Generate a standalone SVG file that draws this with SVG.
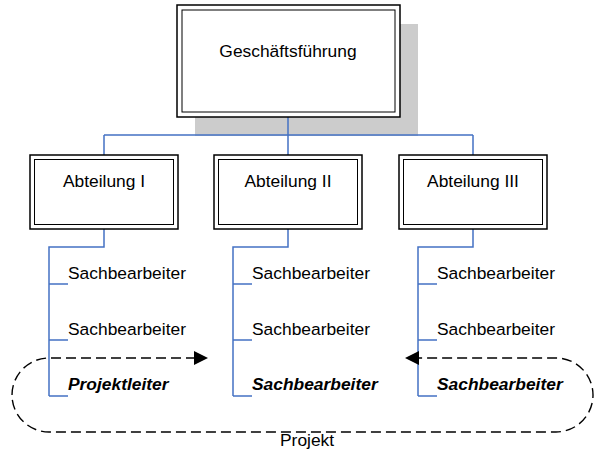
<svg xmlns="http://www.w3.org/2000/svg" width="595" height="452" viewBox="0 0 595 452">
  <style>
    .outer { fill: #ffffff; stroke: #000000; stroke-width: 1.5; }
    .inner { fill: none; stroke: #000000; stroke-width: 1; }
    .label { font-family: "Liberation Sans", Arial, sans-serif; font-size: 17.4px; fill: #000000; }
    .emph { font-weight: bold; font-style: italic; }
    .tree { fill: none; stroke: #4472C4; stroke-width: 1.5; }
    .dash { fill: none; stroke: #000000; stroke-width: 1.4; stroke-dasharray: 10 5; }
  </style>

  <!-- connectors -->
  <g id="connectors">
    <rect x="195" y="24" width="223" height="112" fill="#cccccc"/>
    <path class="tree" d="M288,117 V135 M104,135 H473 M104,135 V155 M288,135 V155 M473,135 V155"/>
    <path class="tree" d="M104,229 V247 H49 V396 M49,284 H68 M49,340 H68 M49,396 H68"/>
    <path class="tree" d="M288,229 V247 H233 V396 M233,284 H252 M233,340 H252 M233,396 H252"/>
    <path class="tree" d="M473,229 V247 H418 V396 M418,284 H437 M418,340 H437 M418,396 H437"/>
  </g>

  <g id="geschaeftsfuehrung">
    <rect class="outer" x="177" y="5" width="223" height="112"/>
    <rect class="inner" x="182" y="10" width="213" height="102"/>
    <text class="label" x="288" y="57" text-anchor="middle">Geschäftsführung</text>
  </g>

  <g id="abteilung-1">
    <rect class="outer" x="30" y="155" width="148" height="74"/>
    <rect class="inner" x="34.5" y="159.5" width="139" height="65"/>
    <text class="label" x="104" y="187" text-anchor="middle">Abteilung I</text>
  </g>

  <g id="abteilung-2">
    <rect class="outer" x="214" y="155" width="148" height="74"/>
    <rect class="inner" x="218.5" y="159.5" width="139" height="65"/>
    <text class="label" x="288" y="187" text-anchor="middle">Abteilung II</text>
  </g>

  <g id="abteilung-3">
    <rect class="outer" x="399" y="155" width="148" height="74"/>
    <rect class="inner" x="403.5" y="159.5" width="139" height="65"/>
    <text class="label" x="473" y="187" text-anchor="middle">Abteilung III</text>
  </g>

  <g id="staff-1">
    <text class="label" x="68" y="279">Sachbearbeiter</text>
    <text class="label" x="68" y="335">Sachbearbeiter</text>
    <text class="label emph" x="68" y="390">Projektleiter</text>
  </g>
  <g id="staff-2">
    <text class="label" x="252" y="279">Sachbearbeiter</text>
    <text class="label" x="252" y="335">Sachbearbeiter</text>
    <text class="label emph" x="252" y="390">Sachbearbeiter</text>
  </g>
  <g id="staff-3">
    <text class="label" x="437" y="279">Sachbearbeiter</text>
    <text class="label" x="437" y="335">Sachbearbeiter</text>
    <text class="label emph" x="437" y="390">Sachbearbeiter</text>
  </g>

  <!-- project loop with its two arrowheads -->
  <g id="projekt">
    <path class="dash" d="M196,358 H49 A37,37 0 0 0 49,432 H556 A37,37 0 0 0 556,358 H417"/>
    <path d="M194,351 L208,358 L194,365 Z" fill="#000000"/>
    <path d="M419,351 L405,358 L419,365 Z" fill="#000000"/>
    <text class="label" x="280" y="446">Projekt</text>
  </g>
</svg>
